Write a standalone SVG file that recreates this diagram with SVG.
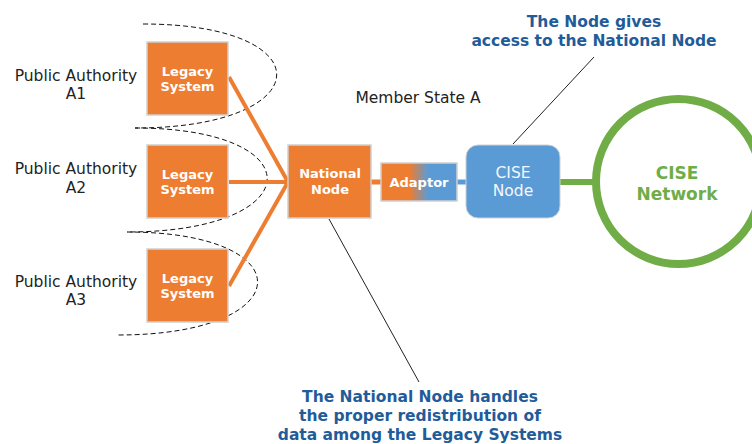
<svg xmlns="http://www.w3.org/2000/svg" width="752" height="444" viewBox="0 0 752 444">
<defs>
<linearGradient id="adaptorGrad" x1="0" y1="0" x2="1" y2="0">
<stop offset="0.38" stop-color="#ED7D31"/>
<stop offset="0.62" stop-color="#5B9BD5"/>
</linearGradient>
<style>
.lbl{font-family:"DejaVu Sans","Verdana",sans-serif;font-size:15.5px;fill:#222;text-anchor:middle}
.box{fill:#ED7D31;stroke:#d0d0d0;stroke-width:1.5}
.wb{font-family:"DejaVu Sans","Verdana",sans-serif;font-size:13px;font-weight:bold;fill:#fff;text-anchor:middle}
.note{font-family:"DejaVu Sans","Verdana",sans-serif;font-size:15.5px;font-weight:bold;fill:#1F5C99;text-anchor:middle}
.dash{fill:none;stroke:#111;stroke-width:1;stroke-dasharray:5 3}
.orange{stroke:#ED7D31;stroke-width:4;fill:none}
.callout{stroke:#222;stroke-width:1;fill:none}
</style>
</defs>
<rect width="752" height="444" fill="#fff"/>

<g id="boundaries">
<path class="dash" d="M143,24 C325,24 320,128 135,128"/>
<path class="dash" d="M135,128 C315,128 310,232 127,232"/>
<path class="dash" d="M127,232 C305,232 300,335 118,335"/>
</g>

<g id="connectors">
<line class="orange" x1="229" y1="77" x2="288" y2="182"/>
<line class="orange" x1="229" y1="182" x2="288" y2="182"/>
<line class="orange" x1="229" y1="286" x2="288" y2="182"/>
<line x1="371" y1="182" x2="381" y2="182" stroke="#ED7D31" stroke-width="5"/>
<line x1="457" y1="182" x2="466" y2="182" stroke="#5B9BD5" stroke-width="5"/>
<line x1="560" y1="182" x2="597" y2="182" stroke="#70AD47" stroke-width="6"/>
<line class="callout" x1="513" y1="144" x2="594" y2="57"/>
<line class="callout" x1="329" y1="219" x2="419" y2="382"/>
</g>

<g id="pa1">
<text class="lbl" x="76" y="81">Public Authority</text>
<text class="lbl" x="76" y="99">A1</text>
</g>
<g id="pa2">
<text class="lbl" x="76" y="174">Public Authority</text>
<text class="lbl" x="76" y="193">A2</text>
</g>
<g id="pa3">
<text class="lbl" x="76" y="287">Public Authority</text>
<text class="lbl" x="76" y="305">A3</text>
</g>

<g id="legacy1">
<rect class="box" x="147" y="42" width="81" height="73"/>
<text class="wb" x="187.5" y="76">Legacy</text>
<text class="wb" x="187.5" y="91">System</text>
</g>
<g id="legacy2">
<rect class="box" x="147" y="145" width="81" height="73"/>
<text class="wb" x="187.5" y="179">Legacy</text>
<text class="wb" x="187.5" y="194">System</text>
</g>
<g id="legacy3">
<rect class="box" x="147" y="249" width="81" height="73"/>
<text class="wb" x="187.5" y="283">Legacy</text>
<text class="wb" x="187.5" y="298">System</text>
</g>

<g id="national-node">
<rect class="box" x="288" y="145" width="83" height="73"/>
<text class="wb" x="330" y="178">National</text>
<text class="wb" x="330" y="194">Node</text>
</g>

<g id="adaptor">
<rect x="381" y="163" width="76" height="38" fill="url(#adaptorGrad)" stroke="#d0d0d0" stroke-width="1.5"/>
<text class="wb" x="419" y="187">Adaptor</text>
</g>

<g id="cise-node">
<rect x="466" y="145" width="94" height="73" rx="12" fill="#5B9BD5" stroke="#d0d0d0" stroke-width="1"/>
<text class="lbl" x="513" y="178" style="fill:#f4f8fc">CISE</text>
<text class="lbl" x="513" y="196" style="fill:#f4f8fc">Node</text>
</g>

<g id="cise-network">
<circle cx="678.5" cy="181.5" r="82.5" fill="#fff" stroke="#70AD47" stroke-width="8"/>
<text x="677" y="179" text-anchor="middle" font-family="DejaVu Sans, Verdana, sans-serif" font-size="17" font-weight="bold" fill="#70AD47">CISE</text>
<text x="677" y="200" text-anchor="middle" font-family="DejaVu Sans, Verdana, sans-serif" font-size="17" font-weight="bold" fill="#70AD47">Network</text>
</g>

<g id="member-state">
<text class="lbl" x="418" y="103">Member State A</text>
</g>

<g id="note-top">
<text class="note" x="594" y="27">The Node gives</text>
<text class="note" x="594" y="46">access to the National Node</text>
</g>

<g id="note-bottom">
<text class="note" x="420" y="402">The National Node handles</text>
<text class="note" x="420" y="421">the proper redistribution of</text>
<text class="note" x="420" y="440">data among the Legacy Systems</text>
</g>
</svg>
